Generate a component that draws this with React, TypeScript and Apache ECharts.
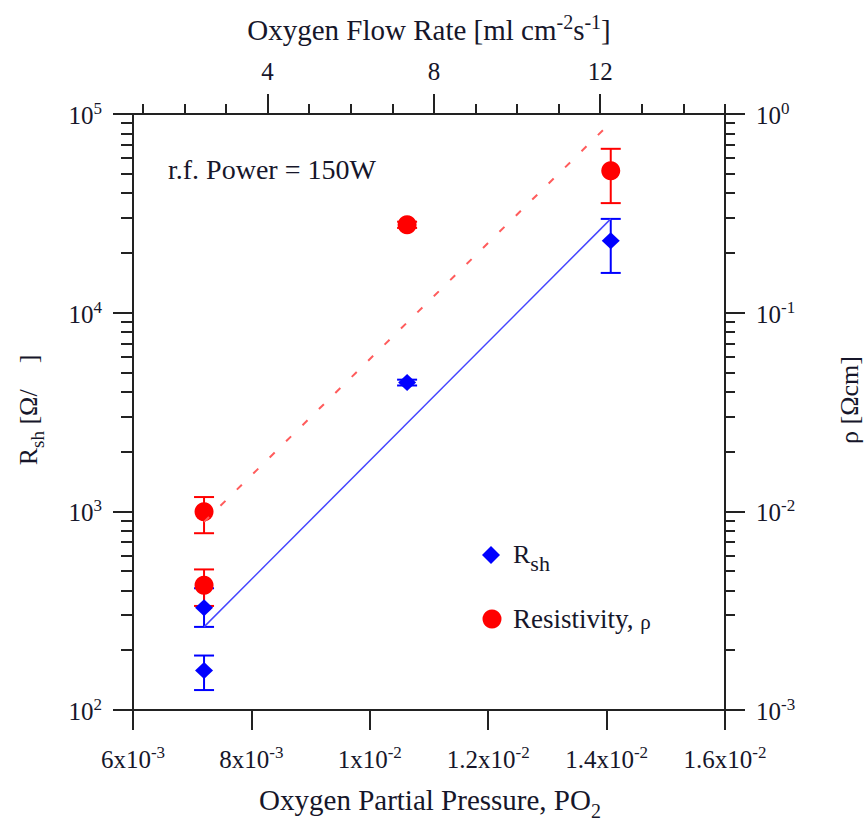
import React, { useEffect, useRef } from 'react';
import * as echarts from 'echarts';

const FONT = '"Liberation Serif", "Times New Roman", Times, serif';
const INK = '#16162a';
const AXIS = '#222222';
const BLUE = '#0000ff';
const RED = '#ff0000';

// ---- data ----
const rshPO2 = [7.2e-3, 7.2e-3, 10.63e-3, 14.07e-3];
const rshValues = [158, 327, 4446, 23000];
const rshErrLow = [126, 262, 4300, 15850];
const rshErrHigh = [188, 410, 4600, 29650];

const rhoPO2 = [7.2e-3, 7.2e-3, 10.63e-3, 14.07e-3];
const rhoValues = [0.00995, 0.00425, 0.277, 0.518];
const rhoErrLow = [0.00776, 0.00334, 0.267, 0.356];
const rhoErrHigh = [0.0118, 0.0051, 0.287, 0.668];

const rshFitPO2 = [7.2e-3, 14.07e-3];
const rshFitValues = [262, 29650];
const rhoFitPO2 = [7.2e-3, 14.07e-3];
const rhoFitValues = [0.00885, 0.906];

// ---- axes ----
const po2Range = [0.006, 0.016];
const po2Ticks = [0.006, 0.008, 0.01, 0.012, 0.014, 0.016];
const po2TickMantissa = ['6', '8', '1', '1.2', '1.4', '1.6'];
const po2TickExponent = ['-3', '-3', '-2', '-2', '-2', '-2'];

const flowRange = [0.764, 15];
const flowMajorTicks = [4, 8, 12];
const flowMinorTicks = [1, 2, 3, 5, 6, 7, 9, 10, 11, 13, 14, 15];

const rshRange = [1e2, 1e5];
const rshMajorTicks = [1e2, 1e3, 1e4, 1e5];
const rhoRange = [1e-3, 1];
const rhoMajorTicks = [1e-3, 1e-2, 1e-1, 1];
const minorMultipliers = [2, 3, 4, 5, 6, 7, 8, 9];

const minorOf = (majors: number[]) =>
  majors.slice(0, -1).flatMap((d) => minorMultipliers.map((m) => +(m * d).toPrecision(6)));

const labelRich = {
  b: { fontFamily: FONT, fontSize: 25, color: INK, verticalAlign: 'bottom' },
  sup: { fontFamily: FONT, fontSize: 17, color: INK, verticalAlign: 'bottom', padding: [0, 0, 11, 0] },
};

const expLabel = (v: number) => '{b|10}{sup|' + Math.round(Math.log10(v)) + '}';

function errorBarSeries(xs: number[], lo: number[], hi: number[], yAxisIndex: number, color: string) {
  return {
    type: 'custom',
    xAxisIndex: 0,
    yAxisIndex,
    silent: true,
    encode: { x: 0, y: [1, 2] },
    data: xs.map((x, i) => [x, lo[i], hi[i]]),
    renderItem: (_p: any, api: any) => {
      const x = api.value(0);
      const a = api.coord([x, api.value(1)]);
      const b = api.coord([x, api.value(2)]);
      const w = 10;
      const st = { stroke: color, lineWidth: 2 };
      return {
        type: 'group',
        children: [
          { type: 'line', shape: { x1: a[0], y1: a[1], x2: b[0], y2: b[1] }, style: st },
          { type: 'line', shape: { x1: a[0] - w, y1: a[1], x2: a[0] + w, y2: a[1] }, style: st },
          { type: 'line', shape: { x1: b[0] - w, y1: b[1], x2: b[0] + w, y2: b[1] }, style: st },
        ],
      };
    },
  };
}

export default function App() {
  const ref = useRef<HTMLDivElement>(null);
  useEffect(() => {
    document.body.style.margin = '0';
    const chart = echarts.init(ref.current!, null, { renderer: 'svg' });
    const tickStyle = { color: AXIS, width: 2 };
    const option: any = {
      animation: false,
      backgroundColor: '#ffffff',
      grid: { left: 133, right: 140, top: 114, bottom: 113, containLabel: false, outerBoundsMode: 'none' },
      xAxis: [
        {
          type: 'value', position: 'bottom', min: po2Range[0], max: po2Range[1],
          axisLine: { show: true, lineStyle: { color: AXIS, width: 2 } },
          axisTick: { show: true, inside: false, length: 20, lineStyle: tickStyle, customValues: po2Ticks },
          axisLabel: {
            show: true, margin: 34, customValues: po2Ticks, rich: labelRich,
            formatter: (v: number) => {
              const i = po2Ticks.findIndex((t) => Math.abs(t - v) < 1e-7);
              return i < 0 ? '' : '{b|' + po2TickMantissa[i] + 'x10}{sup|' + po2TickExponent[i] + '}';
            },
          },
          splitLine: { show: false },
        },
        {
          type: 'value', position: 'top', min: flowRange[0], max: flowRange[1],
          axisLine: { show: true, lineStyle: { color: AXIS, width: 2 } },
          axisTick: { show: true, inside: false, length: 20, lineStyle: tickStyle, customValues: flowMajorTicks },
          axisLabel: { show: true, margin: 30, customValues: flowMajorTicks, fontFamily: FONT, fontSize: 25, color: INK },
          splitLine: { show: false },
        },
        {
          type: 'value', position: 'top', min: flowRange[0], max: flowRange[1],
          axisLine: { show: false },
          axisTick: { show: true, inside: false, length: 10, lineStyle: tickStyle, customValues: flowMinorTicks },
          axisLabel: { show: false },
          splitLine: { show: false },
        },
      ],
      yAxis: [
        {
          type: 'log', logBase: 10, position: 'left', min: rshRange[0], max: rshRange[1],
          axisLine: { show: true, lineStyle: { color: AXIS, width: 2 } },
          axisTick: { show: true, inside: false, length: 20, lineStyle: tickStyle, customValues: rshMajorTicks },
          axisLabel: { show: true, margin: 31, customValues: rshMajorTicks, rich: labelRich, formatter: expLabel },
          splitLine: { show: false },
        },
        {
          type: 'log', logBase: 10, position: 'right', min: rhoRange[0], max: rhoRange[1],
          axisLine: { show: true, lineStyle: { color: AXIS, width: 2 } },
          axisTick: { show: true, inside: false, length: 20, lineStyle: tickStyle, customValues: rhoMajorTicks },
          axisLabel: { show: true, margin: 31, customValues: rhoMajorTicks, rich: labelRich, formatter: expLabel },
          splitLine: { show: false },
        },
        {
          type: 'log', logBase: 10, position: 'left', min: rshRange[0], max: rshRange[1],
          axisLine: { show: false },
          axisTick: { show: true, inside: false, length: 12, lineStyle: tickStyle, customValues: minorOf(rshMajorTicks) },
          axisLabel: { show: false },
          splitLine: { show: false },
        },
        {
          type: 'log', logBase: 10, position: 'right', min: rhoRange[0], max: rhoRange[1],
          axisLine: { show: false },
          axisTick: { show: true, inside: false, length: 10, lineStyle: tickStyle, customValues: minorOf(rhoMajorTicks) },
          axisLabel: { show: false },
          splitLine: { show: false },
        },
      ],
      series: [
        {
          type: 'line', xAxisIndex: 0, yAxisIndex: 0, silent: true, showSymbol: false,
          data: rshFitPO2.map((x, i) => [x, rshFitValues[i]]),
          lineStyle: { color: '#4545ff', width: 1.5 },
        },
        {
          type: 'line', xAxisIndex: 0, yAxisIndex: 1, silent: true, showSymbol: false,
          data: rhoFitPO2.map((x, i) => [x, rhoFitValues[i]]),
          lineStyle: { color: '#ff5c5c', width: 2, type: [7, 16] },
        },
        errorBarSeries(rshPO2, rshErrLow, rshErrHigh, 0, BLUE),
        {
          type: 'scatter', xAxisIndex: 0, yAxisIndex: 0, silent: true,
          symbol: 'diamond', symbolSize: [18, 17],
          itemStyle: { color: BLUE, opacity: 1 },
          data: rshPO2.map((x, i) => [x, rshValues[i]]),
        },
        errorBarSeries(rhoPO2, rhoErrLow, rhoErrHigh, 1, RED),
        {
          type: 'scatter', xAxisIndex: 0, yAxisIndex: 1, silent: true,
          symbol: 'circle', symbolSize: 19,
          itemStyle: { color: RED, opacity: 1 },
          data: rhoPO2.map((x, i) => [x, rhoValues[i]]),
        },
      ],
      graphic: [
        {
          type: 'text', x: 429, y: 28,
          style: {
            text: '{b|Oxygen Flow Rate [ml cm}{sup|-2}{b|s}{sup|-1}{b|]}',
            align: 'center', verticalAlign: 'middle',
            rich: {
              b: { fontFamily: FONT, fontSize: 29, fill: INK, verticalAlign: 'bottom' },
              sup: { fontFamily: FONT, fontSize: 20, fill: INK, verticalAlign: 'bottom', padding: [0, 0, 12, 0] },
            },
          },
        },
        {
          type: 'text', x: 430, y: 803,
          style: {
            text: '{b|Oxygen Partial Pressure, PO}{sub|2}',
            align: 'center', verticalAlign: 'middle',
            rich: {
              b: { fontFamily: FONT, fontSize: 29, fill: INK, verticalAlign: 'bottom', padding: [0, 0, 7, 0] },
              sub: { fontFamily: FONT, fontSize: 20, fill: INK, verticalAlign: 'bottom' },
            },
          },
        },
        {
          type: 'text', x: 31, y: 410, rotation: Math.PI / 2,
          style: {
            text: '{b|R}{sub|sh}{b| [Ω/    ]}',
            align: 'center', verticalAlign: 'middle',
            rich: {
              b: { fontFamily: FONT, fontSize: 26, fill: INK, verticalAlign: 'bottom', padding: [0, 0, 6, 0] },
              sub: { fontFamily: FONT, fontSize: 19, fill: INK, verticalAlign: 'bottom' },
            },
          },
        },
        {
          type: 'text', x: 849, y: 400, rotation: Math.PI / 2,
          style: {
            text: 'ρ [Ωcm]', align: 'center', verticalAlign: 'middle',
            fontFamily: FONT, fontSize: 26, fill: INK,
          },
        },
        {
          type: 'text', x: 168, y: 169,
          style: { text: 'r.f. Power = 150W', align: 'left', verticalAlign: 'middle', fontFamily: FONT, fontSize: 28, fill: INK },
        },
        {
          type: 'polygon',
          shape: { points: [[491, 546], [500, 555], [491, 564], [482, 555]] },
          style: { fill: BLUE },
        },
        {
          type: 'circle', shape: { cx: 492, cy: 619, r: 9.5 }, style: { fill: RED },
        },
        {
          type: 'text', x: 513, y: 558,
          style: {
            text: '{b|R}{sub|sh}', align: 'left', verticalAlign: 'middle',
            rich: {
              b: { fontFamily: FONT, fontSize: 26, fill: INK, verticalAlign: 'bottom', padding: [0, 0, 7, 0] },
              sub: { fontFamily: FONT, fontSize: 22, fill: INK, verticalAlign: 'bottom' },
            },
          },
        },
        {
          type: 'text', x: 513, y: 619,
          style: {
            text: '{b|Resistivity, }{s|ρ}', align: 'left', verticalAlign: 'middle',
            rich: {
              b: { fontFamily: FONT, fontSize: 27, fill: INK, verticalAlign: 'bottom' },
              s: { fontFamily: FONT, fontSize: 21, fill: INK, verticalAlign: 'bottom' },
            },
          },
        },
      ],
    };
    chart.setOption(option);
    return () => chart.dispose();
  }, []);
  return <div ref={ref} style={{ width: 865, height: 823 }} />;
}
